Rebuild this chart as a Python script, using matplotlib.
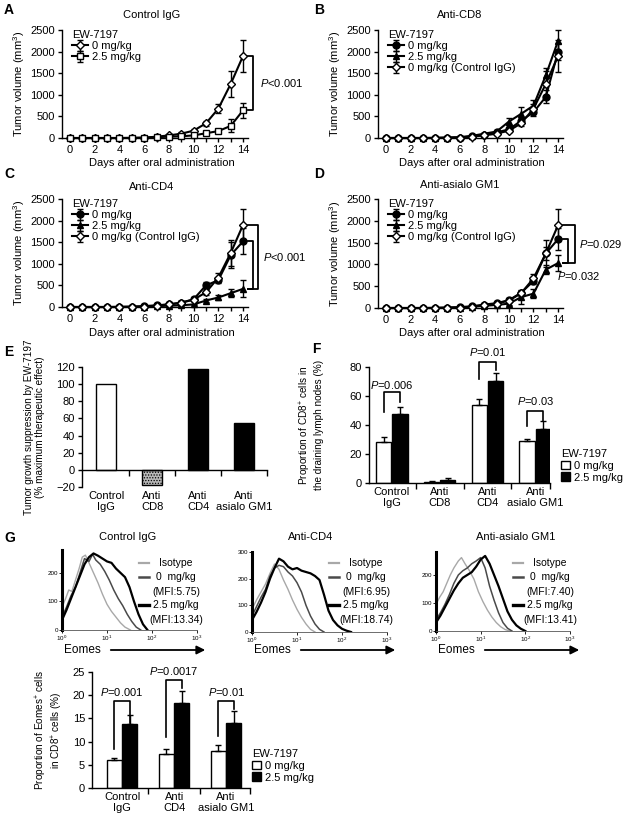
import numpy as np
import matplotlib
matplotlib.use('Agg')
import matplotlib.pyplot as plt
from matplotlib.patches import Patch, FancyArrowPatch
from matplotlib.lines import Line2D
from matplotlib.ticker import MultipleLocator, FixedLocator, NullFormatter, NullLocator

plt.rcParams['font.family'] = ['Liberation Sans', 'DejaVu Sans']
plt.rcParams['mathtext.fontset'] = 'custom'
plt.rcParams['mathtext.rm'] = 'Liberation Sans'
plt.rcParams['mathtext.it'] = 'Liberation Sans:italic'
plt.rcParams['mathtext.bf'] = 'Liberation Sans:bold'
plt.rcParams['font.size'] = 8
plt.rcParams['axes.linewidth'] = 1.0
plt.rcParams['hatch.linewidth'] = 0.6

# ---------------- data ----------------
days = list(range(15))

ctrl0 = [0, 0, 0, 0, 0, 5, 10, 30, 60, 100, 170, 340, 680, 1250, 1900]
ctrl0_err = [0, 0, 0, 0, 0, 5, 10, 15, 20, 30, 40, 60, 100, 300, 370]
ctrl25 = [0, 0, 0, 0, 0, 0, 5, 20, 30, 40, 60, 110, 160, 280, 640]
ctrl25_err = [0, 0, 0, 0, 0, 0, 5, 10, 10, 15, 20, 30, 40, 150, 180]

cd8_0 = [0, 0, 0, 0, 0, 5, 10, 40, 80, 130, 200, 400, 600, 950, 2000]
cd8_0_err = [0, 0, 0, 0, 0, 5, 10, 15, 20, 30, 60, 60, 100, 150, 200]
cd8_25 = [0, 0, 0, 0, 5, 10, 20, 50, 100, 150, 380, 560, 750, 1450, 2250]
cd8_25_err = [0, 0, 0, 0, 5, 5, 10, 15, 20, 40, 80, 150, 120, 180, 250]

cd4_0 = [0, 0, 0, 0, 5, 10, 20, 40, 60, 100, 180, 500, 620, 1200, 1520]
cd4_0_err = [0, 0, 0, 0, 5, 5, 10, 15, 20, 30, 40, 80, 60, 300, 300]
cd4_25 = [0, 0, 0, 0, 0, 0, 5, 20, 30, 40, 60, 150, 220, 320, 420]
cd4_25_err = [0, 0, 0, 0, 0, 0, 5, 10, 10, 15, 20, 30, 50, 100, 200]

gm1_0 = [0, 0, 0, 0, 5, 10, 20, 40, 80, 110, 180, 350, 620, 1250, 1580]
gm1_0_err = [0, 0, 0, 0, 5, 5, 10, 15, 20, 30, 40, 60, 80, 150, 250]
gm1_25 = [0, 0, 0, 0, 0, 5, 10, 30, 50, 70, 100, 250, 330, 880, 1030]
gm1_25_err = [0, 0, 0, 0, 0, 5, 5, 10, 15, 20, 30, 150, 100, 100, 180]

e_cats = ['Control\nIgG', 'Anti\nCD8', 'Anti\nCD4', 'Anti\nasialo GM1']
e_vals = [100, -18, 118, 55]

f_cats = ['Control\nIgG', 'Anti\nCD8', 'Anti\nCD4', 'Anti\nasialo GM1']
f_0 = [28.5, 1.0, 54.0, 29.0]
f_0_err = [3.0, 0.5, 4.0, 1.0]
f_25 = [47.5, 2.0, 70.5, 37.5]
f_25_err = [5.0, 1.5, 5.5, 5.0]
f_pvals = ['$P$=0.006', None, '$P$=0.01', '$P$=0.03']

g_cats = ['Control\nIgG', 'Anti\nCD4', 'Anti\nasialo GM1']
g_0 = [6.0, 7.4, 8.0]
g_0_err = [0.4, 0.9, 1.3]
g_25 = [13.8, 18.3, 14.1]
g_25_err = [1.9, 2.5, 2.4]
g_pvals = ['$P$=0.001', '$P$=0.0017', '$P$=0.01']

# histograms (log10 of Eomes intensity, cell count)
hc_iso_x = [0, 0.08, 0.15, 0.22, 0.3, 0.38, 0.45, 0.52, 0.6, 0.7, 0.8, 0.9, 1.0, 1.1, 1.2, 1.3, 1.4, 1.52]
hc_iso_y = [80, 110, 140, 135, 175, 215, 255, 262, 235, 200, 165, 125, 90, 65, 45, 25, 10, 0]
hc_0_x = [0, 0.1, 0.2, 0.3, 0.4, 0.5, 0.6, 0.68, 0.75, 0.85, 0.95, 1.05, 1.15, 1.25, 1.35, 1.45, 1.55, 1.65, 1.75]
hc_0_y = [45, 80, 120, 150, 200, 250, 240, 265, 245, 230, 205, 175, 140, 110, 85, 55, 30, 10, 0]
hc_25_x = [0, 0.1, 0.2, 0.3, 0.4, 0.5, 0.6, 0.7, 0.8, 0.9, 1.0, 1.1, 1.2, 1.3, 1.4, 1.5, 1.6, 1.7, 1.8, 1.9]
hc_25_y = [35, 70, 110, 150, 190, 230, 255, 268, 260, 250, 240, 235, 215, 200, 185, 150, 100, 55, 20, 0]

hd_iso_x = [0, 0.1, 0.2, 0.3, 0.4, 0.5, 0.6, 0.7, 0.8, 0.9, 1.0, 1.1, 1.2, 1.3, 1.4]
hd_iso_y = [85, 120, 150, 180, 220, 255, 235, 195, 160, 120, 85, 55, 30, 10, 0]
hd_0_x = [0, 0.1, 0.2, 0.3, 0.4, 0.5, 0.6, 0.7, 0.8, 0.9, 1.0, 1.1, 1.2, 1.3, 1.4, 1.5, 1.6]
hd_0_y = [60, 95, 130, 160, 210, 240, 250, 245, 225, 210, 185, 150, 100, 60, 30, 10, 0]
hd_25_x = [0, 0.1, 0.2, 0.3, 0.4, 0.5, 0.6, 0.7, 0.8, 0.9, 1.0, 1.1, 1.2, 1.3, 1.4, 1.5, 1.6, 1.7, 1.8, 1.9, 2.0, 2.1, 2.2]
hd_25_y = [45, 75, 110, 150, 200, 240, 275, 265, 245, 235, 240, 230, 225, 220, 210, 195, 140, 80, 45, 25, 12, 5, 0]

ha_iso_x = [0, 0.08, 0.16, 0.24, 0.32, 0.4, 0.5, 0.57, 0.65, 0.75, 0.85, 0.95, 1.05, 1.15, 1.25, 1.35, 1.45, 1.55, 1.65]
ha_iso_y = [95, 120, 140, 170, 200, 225, 250, 262, 240, 215, 185, 140, 105, 75, 50, 30, 15, 5, 0]
ha_0_x = [0, 0.1, 0.2, 0.3, 0.4, 0.5, 0.6, 0.7, 0.8, 0.9, 1.0, 1.1, 1.2, 1.3, 1.4, 1.5, 1.6, 1.7]
ha_0_y = [40, 65, 95, 130, 170, 200, 215, 225, 240, 250, 262, 225, 160, 110, 65, 30, 10, 0]
ha_25_x = [0, 0.1, 0.2, 0.3, 0.4, 0.5, 0.6, 0.7, 0.8, 0.9, 1.0, 1.1, 1.2, 1.3, 1.4, 1.5, 1.6, 1.7, 1.8, 1.9, 2.0]
ha_25_y = [30, 55, 85, 115, 145, 170, 190, 200, 210, 230, 255, 268, 240, 200, 160, 115, 70, 40, 20, 8, 0]

# ---------------- figure ----------------
W, H = 626, 821
fig = plt.figure(figsize=(W / 100, H / 100), dpi=100)


def add_ax(l, t, r, b):
    return fig.add_axes([l / W, 1 - b / H, (r - l) / W, (b - t) / H])


def ftext(x, y, s, **kw):
    fig.text(x / W, 1 - y / H, s, **kw)


def clean(ax):
    ax.spines['top'].set_visible(False)
    ax.spines['right'].set_visible(False)


for lab, x, y in [('A', 4, 10), ('B', 314, 10), ('C', 4, 174), ('D', 314, 174),
                  ('E', 4, 352), ('F', 312, 349), ('G', 4, 538)]:
    ftext(x, y, lab, fontsize=10, fontweight='bold', ha='left', va='center')


def growth(ax, series, title, tx, ty, lx, ly, leg_y):
    for y, err, mk, face, lab in series:
        ax.errorbar(days, y, yerr=err, marker=mk, mfc=face, mec='black', color='black',
                    ms=5 if mk != 'D' else 4.5, mew=1, lw=1.5, elinewidth=1, capsize=2,
                    capthick=1, label=lab, clip_on=False, zorder=3)
    ax.set_xlim(-0.65, 14.4)
    ax.set_ylim(0, 2500)
    ax.xaxis.set_major_locator(MultipleLocator(2))
    ax.xaxis.set_minor_locator(MultipleLocator(1))
    ax.yaxis.set_major_locator(MultipleLocator(500))
    clean(ax)
    ax.tick_params(which='both', direction='out', length=3, width=1, pad=2)
    ax.set_ylabel('Tumor volume (mm$^3$)')
    ax.yaxis.set_label_coords(-0.19, 0.5)
    ftext(tx, ty, title, ha='center', va='center')
    ftext(lx, ly, 'Days after oral administration', ha='center', va='center')
    ax.legend(loc='upper left', bbox_to_anchor=(0.055, leg_y), frameon=False,
              title='EW-7197', alignment='left', handlelength=1.4, handletextpad=0.4,
              labelspacing=0.1, borderpad=0, borderaxespad=0, fontsize=8, title_fontsize=8)
    return ax


# A
axA = add_ax(62, 30, 248, 138)
growth(axA, [(ctrl0, ctrl0_err, 'D', 'white', '0 mg/kg'),
             (ctrl25, ctrl25_err, 's', 'white', '2.5 mg/kg')],
       'Control IgG', 152, 15, 162, 163, 1.0)
axA.plot([14.4, 14.8, 14.8, 14.4], [ctrl0[-1], ctrl0[-1], ctrl25[-1], ctrl25[-1]],
         color='black', lw=1.3, clip_on=False)
axA.text(15.35, (ctrl0[-1] + ctrl25[-1]) / 2, '$P$<0.001', ha='left', va='center', clip_on=False)

# B
axB = add_ax(378, 30, 563, 138)
growth(axB, [(cd8_0, cd8_0_err, 'o', 'black', '0 mg/kg'),
             (cd8_25, cd8_25_err, '^', 'black', '2.5 mg/kg'),
             (ctrl0, ctrl0_err, 'D', 'white', '0 mg/kg (Control IgG)')],
       'Anti-CD8', 460, 15, 472, 163, 1.0)

# C
axC = add_ax(62, 199, 248, 307)
growth(axC, [(cd4_0, cd4_0_err, 'o', 'black', '0 mg/kg'),
             (cd4_25, cd4_25_err, '^', 'black', '2.5 mg/kg'),
             (ctrl0, ctrl0_err, 'D', 'white', '0 mg/kg (Control IgG)')],
       'Anti-CD4', 152, 187, 162, 333, 1.0)
axC.plot([14.4, 15.2, 15.2, 14.4], [ctrl0[-1], ctrl0[-1], cd4_25[-1], cd4_25[-1]],
         color='black', lw=1.3, clip_on=False)
axC.plot([14.4, 14.8, 14.8, 14.4], [cd4_0[-1], cd4_0[-1], cd4_25[-1], cd4_25[-1]],
         color='black', lw=1.3, clip_on=False)
axC.text(15.6, (ctrl0[-1] + cd4_25[-1]) / 2, '$P$<0.001', ha='left', va='center', clip_on=False)

# D
axD = add_ax(378, 199, 563, 308)
growth(axD, [(gm1_0, gm1_0_err, 'o', 'black', '0 mg/kg'),
             (gm1_25, gm1_25_err, '^', 'black', '2.5 mg/kg'),
             (ctrl0, ctrl0_err, 'D', 'white', '0 mg/kg (Control IgG)')],
       'Anti-asialo GM1', 460, 185, 472, 333, 1.0)
axD.plot([14.4, 15.4, 15.4, 14.4], [ctrl0[-1], ctrl0[-1], gm1_25[-1], gm1_25[-1]],
         color='black', lw=1.3, clip_on=False)
axD.plot([14.4, 14.8, 14.8, 14.4], [gm1_0[-1], gm1_0[-1], gm1_25[-1], gm1_25[-1]],
         color='black', lw=1.3, clip_on=False)
axD.text(15.7, 1460, '$P$=0.029', ha='left', va='center', clip_on=False)
axD.text(13.9, 740, '$P$=0.032', ha='left', va='center', clip_on=False)

# E
axE = add_ax(82, 367, 267, 487)
xe = np.arange(len(e_vals))
axE.bar(xe, e_vals, width=0.44, color=['white', '#b8b8b8', 'black', 'black'],
        edgecolor='black', linewidth=1, hatch=[None, '......', None, None])
axE.set_xlim(-0.525, 3.5)
axE.set_ylim(-20, 120)
axE.yaxis.set_major_locator(MultipleLocator(20))
clean(axE)
axE.spines['bottom'].set_position(('data', 0))
axE.xaxis.set_major_locator(FixedLocator([0.5, 1.5, 2.5, 3.5]))
axE.xaxis.set_major_formatter(NullFormatter())
axE.tick_params(axis='x', direction='out', length=4, width=1)
axE.tick_params(axis='y', direction='out', length=3, width=1, pad=2)
for i, c in enumerate(e_cats):
    axE.annotate(c, (i, -20), xytext=(0, -3), textcoords='offset points',
                 ha='center', va='top', linespacing=1.15, annotation_clip=False)
axE.set_ylabel('Tumor growth suppression by EW-7197\n(% maximum therapeutic effect)',
               linespacing=1.1, fontsize=7.2)
axE.yaxis.set_label_coords(-0.2, 0.5)


def grouped(ax, cats, v0, e0, v25, e25, off, width, pvals, brackets, lab_x):
    x = np.arange(len(cats))
    ax.bar(x - off, v0, width=width, color='white', edgecolor='black', lw=1,
           yerr=[np.zeros(len(e0)), e0], capsize=2.5, error_kw=dict(elinewidth=1, capthick=1),
           label='0 mg/kg')
    ax.bar(x + off, v25, width=width, color='black', edgecolor='black', lw=1,
           yerr=[np.zeros(len(e25)), e25], capsize=2.5, error_kw=dict(elinewidth=1, capthick=1),
           label='2.5 mg/kg')
    clean(ax)
    ax.xaxis.set_major_locator(FixedLocator(list(np.arange(len(cats) - 1) + 0.5) + [lab_x]))
    ax.xaxis.set_major_formatter(NullFormatter())
    ax.xaxis.set_minor_locator(FixedLocator(list(x)))
    ax.set_xticklabels(cats, minor=True)
    ax.tick_params(axis='x', which='major', direction='out', length=4, width=1)
    ax.tick_params(axis='x', which='minor', length=0, pad=3)
    ax.tick_params(axis='y', direction='out', length=3, width=1, pad=2)
    for lbl in ax.get_xticklabels(minor=True):
        lbl.set_linespacing(1.15)
    for i, (pv, br) in enumerate(zip(pvals, brackets)):
        if pv is None:
            continue
        top, lb, rb, ty = br
        ax.plot([i - off, i - off, i + off, i + off], [lb, top, top, rb], color='black',
                lw=1.2, clip_on=False)
        ax.text(i, ty, pv, ha='center', va='center', clip_on=False)


# F
axF = add_ax(369, 367, 550, 483)
grouped(axF, f_cats, f_0, f_0_err, f_25, f_25_err, 0.17, 0.32, f_pvals,
        [(63, 49, 56, 67.5), None, (83.5, 72, 78, 90), (49.5, 39, 43, 56.5)], 3.31)
axF.set_xlim(-0.48, 3.31)
axF.set_ylim(0, 80)
axF.yaxis.set_major_locator(MultipleLocator(20))
axF.set_ylabel('Proportion of CD8$^{+}$ cells in\nthe draining lymph nodes (%)',
               linespacing=1.1, fontsize=7.2)
axF.yaxis.set_label_coords(-0.25, 0.5)
axF.legend(loc='upper left', bbox_to_anchor=(561 / W, 1 - 449 / H), bbox_transform=fig.transFigure,
           frameon=False, title='EW-7197', alignment='left', handlelength=0.8, handleheight=0.8,
           handletextpad=0.4, labelspacing=0.15, borderpad=0, borderaxespad=0,
           fontsize=8, title_fontsize=8)

# G bar
axG = add_ax(92, 672, 250, 788)
grouped(axG, g_cats, g_0, g_0_err, g_25, g_25_err, 0.15, 0.29, g_pvals,
        [(18.7, 8.3, 14.1, 20.6), (23.3, 10.9, 21.5, 25.2), (18.7, 11.1, 17.0, 20.6)], 2.46)
axG.set_xlim(-0.58, 2.46)
axG.set_ylim(0, 25)
axG.yaxis.set_major_locator(MultipleLocator(5))
axG.set_ylabel('Proportion of Eomes$^{+}$ cells\nin CD8$^{+}$ cells (%)', linespacing=1.1,
               fontsize=7.2)
axG.yaxis.set_label_coords(-0.17, 0.5)
axG.legend(loc='upper left', bbox_to_anchor=(252 / W, 1 - 749 / H), bbox_transform=fig.transFigure,
           frameon=False, title='EW-7197', alignment='left', handlelength=0.8, handleheight=0.8,
           handletextpad=0.4, labelspacing=0.15, borderpad=0, borderaxespad=0,
           fontsize=8, title_fontsize=8)


# G histograms
def hist(l, t, r, b, ymax, yticks, curves, title, tx, mfi0, mfi25):
    ax = add_ax(l, t, r, b)
    cols = ['#a8a8a8', '#4a4a4a', 'black']
    lws = [1.0, 1.1, 1.6]
    for (xs, ys), c, lw in zip(curves, cols, lws):
        ax.plot(10 ** np.array(xs), ys, color=c, lw=lw)
    ax.set_xscale('log')
    ax.set_xlim(1, 1000)
    ax.set_ylim(0, ymax)
    ax.set_yticks(yticks)
    ax.xaxis.set_minor_locator(NullLocator())
    clean(ax)
    ax.spines['left'].set_linewidth(2.2)
    ax.spines['bottom'].set_linewidth(0.6)
    ax.spines['bottom'].set_color('#555555')
    ax.tick_params(labelsize=4.5, length=2, width=0.6, pad=1)
    ftext(tx, 537, title, ha='center', va='center')
    ys = [563, 577, 592, 605, 620]
    items = [('Isotype', cols[0], 1.6), ('0  mg/kg', cols[1], 1.8), (mfi0, None, 0),
             ('2.5 mg/kg', cols[2], 2.4), (mfi25, None, 0)]
    for (s, c, lw), y in zip(items, ys):
        if c is not None:
            fig.add_artist(Line2D([(l + 77) / W, (l + 87) / W], [1 - y / H, 1 - y / H],
                                  color=c, lw=lw))
        ftext(l + 114, y, s, ha='center', va='center', fontsize=7.5)
    ftext(l + 2, 650, 'Eomes', ha='left', va='center', fontsize=8.5)
    fig.add_artist(FancyArrowPatch(((l + 46) / W, 1 - 650 / H), ((l + 146) / W, 1 - 650 / H),
                                   transform=fig.transFigure,
                                   arrowstyle='-|>,head_length=5,head_width=2.5',
                                   color='black', lw=1.3, mutation_scale=1))
    return ax


hist(62, 550, 197, 630, 280, [0, 100, 200],
     [(hc_iso_x, hc_iso_y), (hc_0_x, hc_0_y), (hc_25_x, hc_25_y)],
     'Control IgG', 128, '(MFI:5.75)', '(MFI:13.34)')
hist(252, 552, 387, 632, 300, [0, 100, 200, 300],
     [(hd_iso_x, hd_iso_y), (hd_0_x, hd_0_y), (hd_25_x, hd_25_y)],
     'Anti-CD4', 311, '(MFI:6.95)', '(MFI:18.74)')
hist(436, 552, 570, 631, 282, [0, 100, 200],
     [(ha_iso_x, ha_iso_y), (ha_0_x, ha_0_y), (ha_25_x, ha_25_y)],
     'Anti-asialo GM1', 516, '(MFI:7.40)', '(MFI:13.41)')

fig.savefig('out.png', dpi=100)
